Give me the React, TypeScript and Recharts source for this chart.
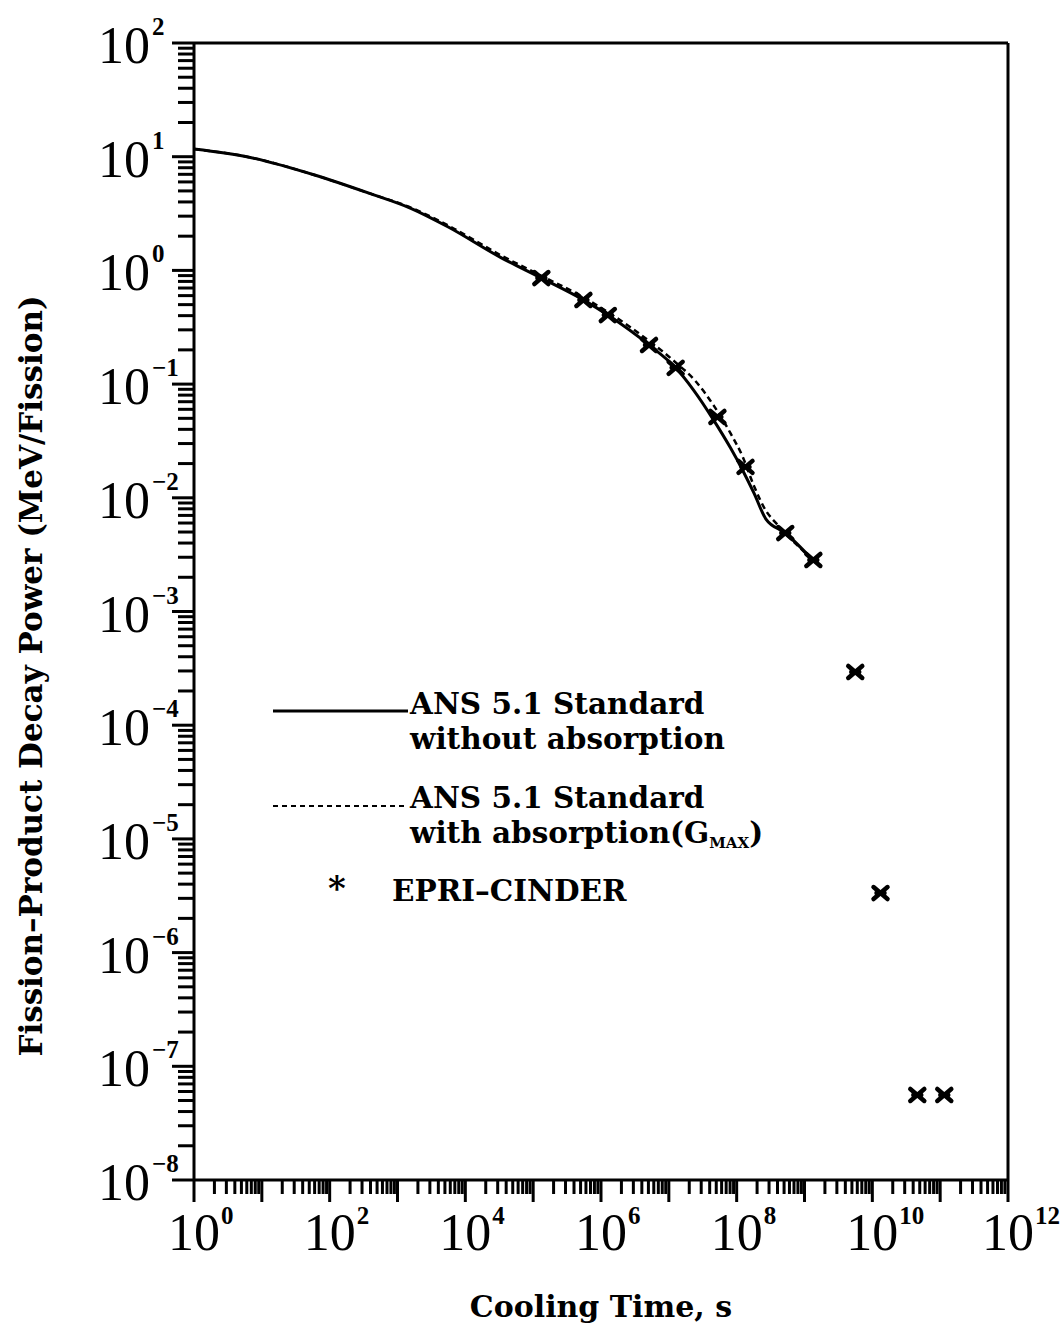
import {
  ComposedChart,
  Line,
  Scatter,
  XAxis,
  YAxis,
  ReferenceLine,
  Label,
} from "recharts";

// cooling time (s) / decay power (MeV/fission)
const ansTime = [1, 6.5, 60, 370, 1600, 5600, 3.4e4, 1.3e5, 5.5e5, 1.26e6, 5.1e6, 1.26e7, 2.3e7, 4.6e7, 8.1e7, 1.23e8, 1.8e8, 2.7e8, 5.2e8, 1.35e9];
const ansPower = [11.7, 9.9, 6.9, 4.8, 3.5, 2.41, 1.29, 0.86, 0.55, 0.405, 0.221, 0.139, 0.089, 0.048, 0.0275, 0.0174, 0.011, 0.0065, 0.0049, 0.0028];

const absTime = [1, 6.5, 60, 370, 1600, 5600, 3.4e4, 1.3e5, 5.5e5, 1.26e6, 5.1e6, 1.26e7, 2.45e7, 4.57e7, 8.1e7, 1.23e8, 1.78e8, 2.7e8, 3.9e8, 5.2e8, 1.35e9];
const absPower = [11.7, 9.9, 6.9, 4.8, 3.55, 2.48, 1.35, 0.9, 0.58, 0.43, 0.24, 0.155, 0.107, 0.065, 0.037, 0.0229, 0.0129, 0.0077, 0.0059, 0.0049, 0.0028];

const epriTime = [1.32e5, 5.5e5, 1.26e6, 5.1e6, 1.26e7, 5.2e7, 1.35e8, 5.2e8, 1.35e9, 5.6e9, 1.32e10, 4.6e10, 1.15e11];
const epriPower = [0.857, 0.55, 0.405, 0.221, 0.139, 0.0514, 0.0187, 0.0049, 0.00284, 2.94e-4, 3.34e-6, 5.6e-8, 5.6e-8];

const xDecades = [0, 1, 2, 3, 4, 5, 6, 7, 8, 9, 10, 11, 12];
const yDecades = [-8, -7, -6, -5, -4, -3, -2, -1, 0, 1, 2];
const minorSteps = [2, 3, 4, 5, 6, 7, 8, 9];

const ansData = ansTime.map((t, i) => ({ t, p: ansPower[i] }));
const absData = absTime.map((t, i) => ({ t, p: absPower[i] }));
const epriData = epriTime.map((t, i) => ({ t, p: epriPower[i] }));

const logTicks = (decades: number[]) =>
  decades.flatMap((d, i) =>
    i < decades.length - 1
      ? [Math.pow(10, d), ...minorSteps.map((m) => m * Math.pow(10, d))]
      : [Math.pow(10, d)]
  );

const xTicks = logTicks(xDecades);
const yTicks = logTicks(yDecades);

const numFont = "'Liberation Serif', serif";
const textFont = "'DejaVu Serif', serif";

const decadeOf = (v: number) => {
  const e = Math.log10(v);
  const n = Math.round(e);
  return { n, major: Math.abs(e - n) < 1e-6 };
};

const XTick = (props: any) => {
  const { x, y, payload } = props;
  const { n, major } = decadeOf(payload.value);
  return (
    <g>
      <line x1={x} x2={x} y1={y} y2={y + (major ? 22 : 14)} stroke="#000" strokeWidth={3} />
      {major && n % 2 === 0 && (
        <g>
          <text x={x} y={y + 70} textAnchor="middle" fontFamily={numFont} fontSize={52}>
            10
          </text>
          <text x={x + 27} y={y + 44} fontFamily={numFont} fontWeight="bold" fontSize={25}>
            {n}
          </text>
        </g>
      )}
    </g>
  );
};

const YTick = (props: any) => {
  const { x, y, payload } = props;
  const { n, major } = decadeOf(payload.value);
  return (
    <g>
      <line x1={x - (major ? 22 : 16)} x2={x} y1={y} y2={y} stroke="#000" strokeWidth={3} />
      {major && (
        <g>
          <text x={x - 44} y={y + 20} textAnchor="end" fontFamily={numFont} fontSize={52}>
            10
          </text>
          <text x={x - 42} y={y - 8} fontFamily={numFont} fontWeight="bold" fontSize={25}>
            {n < 0 ? "\u2212" + Math.abs(n) : n}
          </text>
        </g>
      )}
    </g>
  );
};

const Cross = (props: any) => {
  const { cx, cy } = props;
  return (
    <g stroke="#000" strokeWidth={4.5} strokeLinecap="round">
      <line x1={cx - 7} y1={cy - 6} x2={cx + 7} y2={cy + 6} />
      <line x1={cx - 7} y1={cy + 6} x2={cx + 7} y2={cy - 6} />
      <line x1={cx - 4} y1={cy} x2={cx + 4} y2={cy} />
    </g>
  );
};

const legendText = { fontFamily: textFont, fontWeight: "bold" as const, fontSize: 29.5 };

const LegendBox = () => (
  <svg
    width={1063}
    height={1334}
    style={{ position: "absolute", left: 0, top: 0, pointerEvents: "none" }}
  >
    <line x1={273} x2={408} y1={711} y2={711} stroke="#000" strokeWidth={3} />
    <text x={410} y={714} {...legendText}>ANS 5.1 Standard</text>
    <text x={410} y={749} {...legendText}>without absorption</text>
    <line x1={273} x2={408} y1={806} y2={806} stroke="#000" strokeWidth={2} strokeDasharray="5 4" />
    <text x={410} y={808} {...legendText}>ANS 5.1 Standard</text>
    <text x={410} y={843} {...legendText}>
      with absorption(G
      <tspan fontSize={15} dy={5}>MAX</tspan>
      <tspan dy={-5}>)</tspan>
    </text>
    <text x={337} y={900} textAnchor="middle" {...legendText} fontSize={34}>*</text>
    <text x={392} y={901} {...legendText}>EPRI&#8211;CINDER</text>
  </svg>
);

export default function App() {
  return (
    <div style={{ position: "absolute", left: 0, top: 0, width: 1063, height: 1334, background: "#fff" }}>
      <ComposedChart
        width={1063}
        height={1334}
        margin={{ top: 43, right: 55, bottom: 54, left: 94 }}
      >
        <XAxis
          dataKey="t"
          type="number"
          scale="log"
          domain={[1, 1e12]}
          ticks={xTicks}
          interval={0}
          allowDataOverflow
          height={100}
          tickSize={0}
          tickMargin={0}
          tickLine={false}
          tick={<XTick />}
          axisLine={{ stroke: "#000", strokeWidth: 3 }}
        >
          <Label
            value="Cooling Time, s"
            position="bottom"
            offset={16}
            style={{ fontFamily: textFont, fontWeight: "bold", fontSize: 30, fill: "#000" }}
          />
        </XAxis>
        <YAxis
          dataKey="p"
          type="number"
          scale="log"
          domain={[1e-8, 100]}
          ticks={yTicks}
          interval={0}
          allowDataOverflow
          width={100}
          tickSize={0}
          tickMargin={0}
          tickLine={false}
          tick={<YTick />}
          axisLine={{ stroke: "#000", strokeWidth: 3 }}
        >
          <Label
            content={() => (
              <text
                x={42}
                y={676}
                transform="rotate(-90 42 676)"
                textAnchor="middle"
                fontFamily={textFont}
                fontWeight="bold"
                fontSize={31}
              >
                Fission&#8211;Product Decay Power (MeV/Fission)
              </text>
            )}
          />
        </YAxis>
        <ReferenceLine y={100} stroke="#000" strokeWidth={3} />
        <ReferenceLine x={1e12} stroke="#000" strokeWidth={3} />
        <Line
          data={absData}
          dataKey="p"
          type="monotone"
          stroke="#000"
          strokeWidth={2.5}
          strokeDasharray="6 4"
          dot={false}
          isAnimationActive={false}
        />
        <Line
          data={ansData}
          dataKey="p"
          type="monotone"
          stroke="#000"
          strokeWidth={3}
          dot={false}
          isAnimationActive={false}
        />
        <Scatter data={epriData} dataKey="p" shape={<Cross />} isAnimationActive={false} />
      </ComposedChart>
      <LegendBox />
    </div>
  );
}
